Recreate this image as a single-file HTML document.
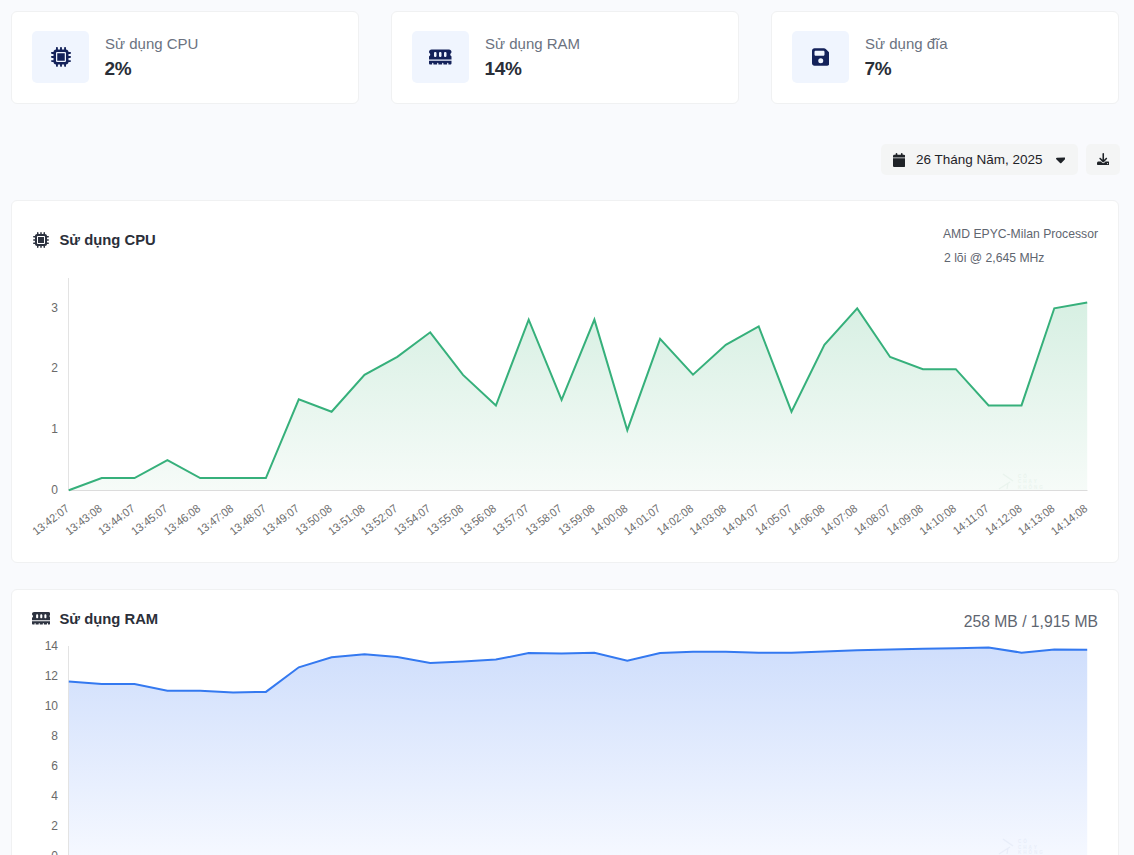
<!DOCTYPE html>
<html><head><meta charset="utf-8">
<style>
html,body{margin:0;padding:0;}
body{width:1134px;height:855px;overflow:hidden;background:#f9fafd;position:relative;font-family:"Liberation Sans",sans-serif;}
.card{position:absolute;background:#fff;border:1px solid #f0f1f2;border-radius:6px;box-sizing:border-box;}
.ibox{position:absolute;width:57px;height:52px;background:#f0f5fe;border-radius:5px;}
.lab{position:absolute;font-size:15px;color:#6b7280;line-height:17px;white-space:nowrap;}
.val{position:absolute;font-size:19px;font-weight:bold;color:#2a2f38;letter-spacing:-0.3px;line-height:22px;white-space:nowrap;}
.btn{position:absolute;background:#f4f5f5;border-radius:5px;}
.t{position:absolute;white-space:nowrap;}
svg text{font-family:"Liberation Sans",sans-serif;}
.yl{font-size:12px;fill:#6a6a6a;}
.xl{font-size:11.6px;fill:#6e6e6e;}
</style></head><body>
<div class="card" style="left:11px;top:10.5px;width:348px;height:93px"></div>
<div class="ibox" style="left:32px;top:31px"></div>
<svg style="position:absolute;left:50.5px;top:47px;width:20.00px;height:20px" viewBox="0 0 512 512"><path fill="#14225a" fill-rule="evenodd" d="M176 24c0-13.3-10.7-24-24-24s-24 10.7-24 24V64c-35.3 0-64 28.7-64 64H24c-13.3 0-24 10.7-24 24s10.7 24 24 24H64v56H24c-13.3 0-24 10.7-24 24s10.7 24 24 24H64v56H24c-13.3 0-24 10.7-24 24s10.7 24 24 24H64c0 35.3 28.7 64 64 64v40c0 13.3 10.7 24 24 24s24-10.7 24-24V448h56v40c0 13.3 10.7 24 24 24s24-10.7 24-24V448h56v40c0 13.3 10.7 24 24 24s24-10.7 24-24V448c35.3 0 64-28.7 64-64h40c13.3 0 24-10.7 24-24s-10.7-24-24-24H448V280h40c13.3 0 24-10.7 24-24s-10.7-24-24-24H448V176h40c13.3 0 24-10.7 24-24s-10.7-24-24-24H448c0-35.3-28.7-64-64-64V24c0-13.3-10.7-24-24-24s-24 10.7-24 24V64H280V24c0-13.3-10.7-24-24-24s-24 10.7-24 24V64H176V24zM160 128H352c17.7 0 32 14.3 32 32V352c0 17.7-14.3 32-32 32H160c-17.7 0-32-14.3-32-32V160c0-17.7 14.3-32 32-32zM352 160H160V352H352V160z"/></svg>
<div class="lab" style="left:105px;top:34.7px">Sử dụng CPU</div>
<div class="val" style="left:104.5px;top:57.5px">2%</div>
<div class="card" style="left:391px;top:10.5px;width:348px;height:93px"></div>
<div class="ibox" style="left:412px;top:31px"></div>
<svg style="position:absolute;left:429.25px;top:47px;width:22.50px;height:20px" viewBox="0 0 576 512"><path fill="#14225a" fill-rule="evenodd" d="M64 64C28.7 64 0 92.7 0 128v7.4c0 6.8 4.4 12.6 10.1 16.3C23.3 160.3 32 175.1 32 192s-8.7 31.7-21.9 40.3C4.4 236 0 241.8 0 248.6V320H576V248.6c0-6.8-4.4-12.6-10.1-16.3C552.7 223.7 544 208.9 544 192s8.7-31.7 21.9-40.3c5.7-3.7 10.1-9.5 10.1-16.3V128c0-35.3-28.7-64-64-64H64zM576 352H0v64c0 17.7 14.3 32 32 32H80V416c0-8.8 7.2-16 16-16s16 7.2 16 16v32h96V416c0-8.8 7.2-16 16-16s16 7.2 16 16v32h96V416c0-8.8 7.2-16 16-16s16 7.2 16 16v32h96V416c0-8.8 7.2-16 16-16s16 7.2 16 16v32h48c17.7 0 32-14.3 32-32V352zM192 160v64c0 17.7-14.3 32-32 32s-32-14.3-32-32V160c0-17.7 14.3-32 32-32s32 14.3 32 32zm128 0v64c0 17.7-14.3 32-32 32s-32-14.3-32-32V160c0-17.7 14.3-32 32-32s32 14.3 32 32zm128 0v64c0 17.7-14.3 32-32 32s-32-14.3-32-32V160c0-17.7 14.3-32 32-32s32 14.3 32 32z"/></svg>
<div class="lab" style="left:485px;top:34.7px">Sử dụng RAM</div>
<div class="val" style="left:484.5px;top:57.5px">14%</div>
<div class="card" style="left:771px;top:10.5px;width:348px;height:93px"></div>
<div class="ibox" style="left:792px;top:31px"></div>
<svg style="position:absolute;left:811.75px;top:47px;width:17.50px;height:20px" viewBox="0 0 448 512"><path fill="#14225a" fill-rule="evenodd" d="M64 32C28.7 32 0 60.7 0 96V416c0 35.3 28.7 64 64 64H384c35.3 0 64-28.7 64-64V173.3c0-17-6.7-33.3-18.7-45.3L352 50.7C340 38.7 323.7 32 306.7 32H64zm0 96c0-17.7 14.3-32 32-32H288c17.7 0 32 14.3 32 32v64c0 17.7-14.3 32-32 32H96c-17.7 0-32-14.3-32-32V128zM224 288a64 64 0 1 1 0 128 64 64 0 1 1 0-128z"/></svg>
<div class="lab" style="left:865px;top:34.7px">Sử dụng đĩa</div>
<div class="val" style="left:864.5px;top:57.5px">7%</div>

<div class="btn" style="left:881px;top:144px;width:197px;height:31px"></div>
<svg style="position:absolute;left:893px;top:153px;width:12.25px;height:14px" viewBox="0 0 448 512"><path fill="#1f2328" fill-rule="evenodd" d="M96 32V64H48C21.5 64 0 85.5 0 112v48H448V112c0-26.5-21.5-48-48-48H352V32c0-17.7-14.3-32-32-32s-32 14.3-32 32V64H160V32c0-17.7-14.3-32-32-32S96 14.3 96 32zM448 192H0V464c0 26.5 21.5 48 48 48H400c26.5 0 48-21.5 48-48V192z"/></svg>
<div class="t" style="left:916px;top:152px;font-size:13.5px;color:#1f2328;line-height:16px">26 Tháng Năm, 2025</div>
<svg style="position:absolute;left:1055.6px;top:151.5px;width:9.38px;height:15px" viewBox="0 0 320 512"><path fill="#1f2328" fill-rule="evenodd" d="M137.4 374.6c12.5 12.5 32.8 12.5 45.3 0l128-128c9.2-9.2 11.9-22.9 6.9-34.9s-16.6-19.8-29.6-19.8L32 192c-12.9 0-24.6 7.8-29.6 19.8s-2.2 25.7 6.9 34.9l128 128z"/></svg>
<div class="btn" style="left:1086px;top:144px;width:34px;height:31px"></div>
<svg style="position:absolute;left:1096.5px;top:152.5px;width:12.50px;height:12.5px" viewBox="0 0 512 512"><path fill="#1f2328" fill-rule="evenodd" d="M288 32c0-17.7-14.3-32-32-32s-32 14.3-32 32V274.7l-73.4-73.4c-12.5-12.5-32.8-12.5-45.3 0s-12.5 32.8 0 45.3l128 128c12.5 12.5 32.8 12.5 45.3 0l128-128c12.5-12.5 12.5-32.8 0-45.3s-32.8-12.5-45.3 0L288 274.7V32zM64 352c-35.3 0-64 28.7-64 64v32c0 35.3 28.7 64 64 64H448c35.3 0 64-28.7 64-64V416c0-35.3-28.7-64-64-64H346.5l-45.3 45.3c-25 25-65.5 25-90.5 0L165.5 352H64zM432 408a24 24 0 1 1 0 48 24 24 0 1 1 0-48z"/></svg>

<div class="card" style="left:11px;top:199.5px;width:1108px;height:363.5px"></div>
<div class="card" style="left:11px;top:588.5px;width:1108px;height:400px"></div>

<svg style="position:absolute;left:33px;top:232px;width:16.00px;height:16px" viewBox="0 0 512 512"><path fill="#2d3340" fill-rule="evenodd" d="M176 24c0-13.3-10.7-24-24-24s-24 10.7-24 24V64c-35.3 0-64 28.7-64 64H24c-13.3 0-24 10.7-24 24s10.7 24 24 24H64v56H24c-13.3 0-24 10.7-24 24s10.7 24 24 24H64v56H24c-13.3 0-24 10.7-24 24s10.7 24 24 24H64c0 35.3 28.7 64 64 64v40c0 13.3 10.7 24 24 24s24-10.7 24-24V448h56v40c0 13.3 10.7 24 24 24s24-10.7 24-24V448h56v40c0 13.3 10.7 24 24 24s24-10.7 24-24V448c35.3 0 64-28.7 64-64h40c13.3 0 24-10.7 24-24s-10.7-24-24-24H448V280h40c13.3 0 24-10.7 24-24s-10.7-24-24-24H448V176h40c13.3 0 24-10.7 24-24s-10.7-24-24-24H448c0-35.3-28.7-64-64-64V24c0-13.3-10.7-24-24-24s-24 10.7-24 24V64H280V24c0-13.3-10.7-24-24-24s-24 10.7-24 24V64H176V24zM160 128H352c17.7 0 32 14.3 32 32V352c0 17.7-14.3 32-32 32H160c-17.7 0-32-14.3-32-32V160c0-17.7 14.3-32 32-32zM352 160H160V352H352V160z"/></svg>
<div class="t" style="left:59.5px;top:231.5px;font-size:14.8px;font-weight:bold;color:#2b2f3a;line-height:17px">Sử dụng CPU</div>
<div class="t" style="right:36px;top:226.5px;font-size:12.2px;color:#5f6670;line-height:14px;text-align:right">AMD EPYC-Milan Processor</div>
<div class="t" style="left:944px;top:250.5px;font-size:12.2px;color:#5f6670;line-height:14px">2 lõi @ 2,645 MHz</div>

<svg style="position:absolute;left:31.7px;top:610px;width:18.56px;height:16.5px" viewBox="0 0 576 512"><path fill="#2d3340" fill-rule="evenodd" d="M64 64C28.7 64 0 92.7 0 128v7.4c0 6.8 4.4 12.6 10.1 16.3C23.3 160.3 32 175.1 32 192s-8.7 31.7-21.9 40.3C4.4 236 0 241.8 0 248.6V320H576V248.6c0-6.8-4.4-12.6-10.1-16.3C552.7 223.7 544 208.9 544 192s8.7-31.7 21.9-40.3c5.7-3.7 10.1-9.5 10.1-16.3V128c0-35.3-28.7-64-64-64H64zM576 352H0v64c0 17.7 14.3 32 32 32H80V416c0-8.8 7.2-16 16-16s16 7.2 16 16v32h96V416c0-8.8 7.2-16 16-16s16 7.2 16 16v32h96V416c0-8.8 7.2-16 16-16s16 7.2 16 16v32h96V416c0-8.8 7.2-16 16-16s16 7.2 16 16v32h48c17.7 0 32-14.3 32-32V352zM192 160v64c0 17.7-14.3 32-32 32s-32-14.3-32-32V160c0-17.7 14.3-32 32-32s32 14.3 32 32zm128 0v64c0 17.7-14.3 32-32 32s-32-14.3-32-32V160c0-17.7 14.3-32 32-32s32 14.3 32 32zm128 0v64c0 17.7-14.3 32-32 32s-32-14.3-32-32V160c0-17.7 14.3-32 32-32s32 14.3 32 32z"/></svg>
<div class="t" style="left:59.5px;top:611px;font-size:14.8px;font-weight:bold;color:#2b2f3a;line-height:17px">Sử dụng RAM</div>
<div class="t" style="right:36px;top:613px;font-size:15.7px;color:#5f6670;line-height:17px">258 MB / 1,915 MB</div>

<svg style="position:absolute;left:0;top:0" width="1134" height="855" viewBox="0 0 1134 855">

<defs>
<linearGradient id="gc" x1="0" y1="278" x2="0" y2="490" gradientUnits="userSpaceOnUse"><stop offset="0" stop-color="#d3eee0"/><stop offset="1" stop-color="#f6fbf8"/></linearGradient>
<linearGradient id="gr" x1="0" y1="646" x2="0" y2="856" gradientUnits="userSpaceOnUse"><stop offset="0" stop-color="#cfdefc"/><stop offset="1" stop-color="#f5f8ff"/></linearGradient>
</defs>
<polygon points="68.8,490.3 68.8,490.3 101.7,478.1 134.5,478.1 167.4,460.1 200.2,478.1 233.1,478.1 265.9,478.1 298.8,399.3 331.6,411.7 364.5,374.9 397.3,356.9 430.2,332.3 463.0,374.9 495.9,405.6 528.7,319.6 561.6,399.8 594.4,319.6 627.3,430.2 660.1,338.9 693.0,374.7 725.8,344.8 758.7,326.5 791.5,411.7 824.4,344.8 857.2,308.4 890.1,357.0 922.9,369.2 955.8,369.2 988.6,405.4 1021.5,405.4 1054.3,308.3 1087.2,302.5 1087.2,490.3" fill="url(#gc)"/>
<line x1="68.5" y1="278" x2="68.5" y2="490.5" stroke="#e3e3e3" stroke-width="1"/>
<line x1="68" y1="490.5" x2="1087.5" y2="490.5" stroke="#dcdcdc" stroke-width="1"/>
<polyline points="68.8,490.3 101.7,478.1 134.5,478.1 167.4,460.1 200.2,478.1 233.1,478.1 265.9,478.1 298.8,399.3 331.6,411.7 364.5,374.9 397.3,356.9 430.2,332.3 463.0,374.9 495.9,405.6 528.7,319.6 561.6,399.8 594.4,319.6 627.3,430.2 660.1,338.9 693.0,374.7 725.8,344.8 758.7,326.5 791.5,411.7 824.4,344.8 857.2,308.4 890.1,357.0 922.9,369.2 955.8,369.2 988.6,405.4 1021.5,405.4 1054.3,308.3 1087.2,302.5" fill="none" stroke="#36b07b" stroke-width="2" stroke-linejoin="miter"/>
<text x="58" y="493.9" text-anchor="end" class="yl">0</text><text x="58" y="433.1" text-anchor="end" class="yl">1</text><text x="58" y="372.3" text-anchor="end" class="yl">2</text><text x="58" y="311.5" text-anchor="end" class="yl">3</text>
<text transform="translate(70.0,510) rotate(-37.5) scale(0.94,1)" text-anchor="end" class="xl">13:42:07</text><text transform="translate(102.9,510) rotate(-37.5) scale(0.94,1)" text-anchor="end" class="xl">13:43:08</text><text transform="translate(135.7,510) rotate(-37.5) scale(0.94,1)" text-anchor="end" class="xl">13:44:07</text><text transform="translate(168.6,510) rotate(-37.5) scale(0.94,1)" text-anchor="end" class="xl">13:45:07</text><text transform="translate(201.4,510) rotate(-37.5) scale(0.94,1)" text-anchor="end" class="xl">13:46:08</text><text transform="translate(234.3,510) rotate(-37.5) scale(0.94,1)" text-anchor="end" class="xl">13:47:08</text><text transform="translate(267.1,510) rotate(-37.5) scale(0.94,1)" text-anchor="end" class="xl">13:48:07</text><text transform="translate(300.0,510) rotate(-37.5) scale(0.94,1)" text-anchor="end" class="xl">13:49:07</text><text transform="translate(332.8,510) rotate(-37.5) scale(0.94,1)" text-anchor="end" class="xl">13:50:08</text><text transform="translate(365.7,510) rotate(-37.5) scale(0.94,1)" text-anchor="end" class="xl">13:51:08</text><text transform="translate(398.5,510) rotate(-37.5) scale(0.94,1)" text-anchor="end" class="xl">13:52:07</text><text transform="translate(431.4,510) rotate(-37.5) scale(0.94,1)" text-anchor="end" class="xl">13:54:07</text><text transform="translate(464.2,510) rotate(-37.5) scale(0.94,1)" text-anchor="end" class="xl">13:55:08</text><text transform="translate(497.1,510) rotate(-37.5) scale(0.94,1)" text-anchor="end" class="xl">13:56:08</text><text transform="translate(529.9,510) rotate(-37.5) scale(0.94,1)" text-anchor="end" class="xl">13:57:07</text><text transform="translate(562.8,510) rotate(-37.5) scale(0.94,1)" text-anchor="end" class="xl">13:58:07</text><text transform="translate(595.6,510) rotate(-37.5) scale(0.94,1)" text-anchor="end" class="xl">13:59:08</text><text transform="translate(628.5,510) rotate(-37.5) scale(0.94,1)" text-anchor="end" class="xl">14:00:08</text><text transform="translate(661.3,510) rotate(-37.5) scale(0.94,1)" text-anchor="end" class="xl">14:01:07</text><text transform="translate(694.2,510) rotate(-37.5) scale(0.94,1)" text-anchor="end" class="xl">14:02:08</text><text transform="translate(727.0,510) rotate(-37.5) scale(0.94,1)" text-anchor="end" class="xl">14:03:08</text><text transform="translate(759.9,510) rotate(-37.5) scale(0.94,1)" text-anchor="end" class="xl">14:04:07</text><text transform="translate(792.7,510) rotate(-37.5) scale(0.94,1)" text-anchor="end" class="xl">14:05:07</text><text transform="translate(825.6,510) rotate(-37.5) scale(0.94,1)" text-anchor="end" class="xl">14:06:08</text><text transform="translate(858.4,510) rotate(-37.5) scale(0.94,1)" text-anchor="end" class="xl">14:07:08</text><text transform="translate(891.3,510) rotate(-37.5) scale(0.94,1)" text-anchor="end" class="xl">14:08:07</text><text transform="translate(924.1,510) rotate(-37.5) scale(0.94,1)" text-anchor="end" class="xl">14:09:08</text><text transform="translate(957.0,510) rotate(-37.5) scale(0.94,1)" text-anchor="end" class="xl">14:10:08</text><text transform="translate(989.8,510) rotate(-37.5) scale(0.94,1)" text-anchor="end" class="xl">14:11:07</text><text transform="translate(1022.7,510) rotate(-37.5) scale(0.94,1)" text-anchor="end" class="xl">14:12:08</text><text transform="translate(1055.5,510) rotate(-37.5) scale(0.94,1)" text-anchor="end" class="xl">14:13:08</text><text transform="translate(1088.4,510) rotate(-37.5) scale(0.94,1)" text-anchor="end" class="xl">14:14:08</text>

<polygon points="68.8,856 68.8,681.6 101.7,684.0 134.5,684.0 167.4,690.8 200.2,690.8 233.1,692.4 265.9,691.9 298.8,667.3 331.6,657.3 364.5,654.3 397.3,657.0 430.2,663.0 463.0,661.5 495.9,659.6 528.7,653.0 561.6,653.5 594.4,652.7 627.3,660.7 660.1,653.0 693.0,651.7 725.8,651.7 758.7,652.7 791.5,652.7 824.4,651.4 857.2,650.3 890.1,649.6 922.9,648.8 955.8,648.2 988.6,647.4 1021.5,652.7 1054.3,649.6 1087.2,649.8 1087.2,856" fill="url(#gr)"/>
<line x1="68.5" y1="646" x2="68.5" y2="856" stroke="#e3e3e3" stroke-width="1"/>
<polyline points="68.8,681.6 101.7,684.0 134.5,684.0 167.4,690.8 200.2,690.8 233.1,692.4 265.9,691.9 298.8,667.3 331.6,657.3 364.5,654.3 397.3,657.0 430.2,663.0 463.0,661.5 495.9,659.6 528.7,653.0 561.6,653.5 594.4,652.7 627.3,660.7 660.1,653.0 693.0,651.7 725.8,651.7 758.7,652.7 791.5,652.7 824.4,651.4 857.2,650.3 890.1,649.6 922.9,648.8 955.8,648.2 988.6,647.4 1021.5,652.7 1054.3,649.6 1087.2,649.8" fill="none" stroke="#3479f0" stroke-width="2"/>
<text x="58" y="859.6" text-anchor="end" class="yl">0</text><text x="58" y="829.6" text-anchor="end" class="yl">2</text><text x="58" y="799.6" text-anchor="end" class="yl">4</text><text x="58" y="769.5" text-anchor="end" class="yl">6</text><text x="58" y="739.5" text-anchor="end" class="yl">8</text><text x="58" y="709.5" text-anchor="end" class="yl">10</text><text x="58" y="679.5" text-anchor="end" class="yl">12</text><text x="58" y="649.5" text-anchor="end" class="yl">14</text>


<g opacity="0.055" fill="#3a8a5a">
 <text x="1018" y="477.5" font-size="4.6" font-weight="bold" letter-spacing="1.9">CÓ</text>
 <text x="1018" y="483" font-size="4.6" font-weight="bold" letter-spacing="1.9">CHẠY</text>
 <text x="1018" y="488.5" font-size="4.6" font-weight="bold" letter-spacing="1.9">KHÔNG</text>
 <path d="M1003 474 L1013 481 M1010 482 L999 489 M1008 483 L1007 489" stroke="#3a8a5a" stroke-width="1.2" fill="none"/>
</g>
<g opacity="0.055" fill="#3a5a9a">
 <text x="1018" y="843" font-size="4.6" font-weight="bold" letter-spacing="1.9">CÓ</text>
 <text x="1018" y="848.5" font-size="4.6" font-weight="bold" letter-spacing="1.9">CHẠY</text>
 <text x="1018" y="854" font-size="4.6" font-weight="bold" letter-spacing="1.9">KHÔNG</text>
 <path d="M1003 839 L1013 846 M1010 847 L999 854 M1008 848 L1007 854" stroke="#3a5a9a" stroke-width="1.2" fill="none"/>
</g>
</svg>
</body></html>
